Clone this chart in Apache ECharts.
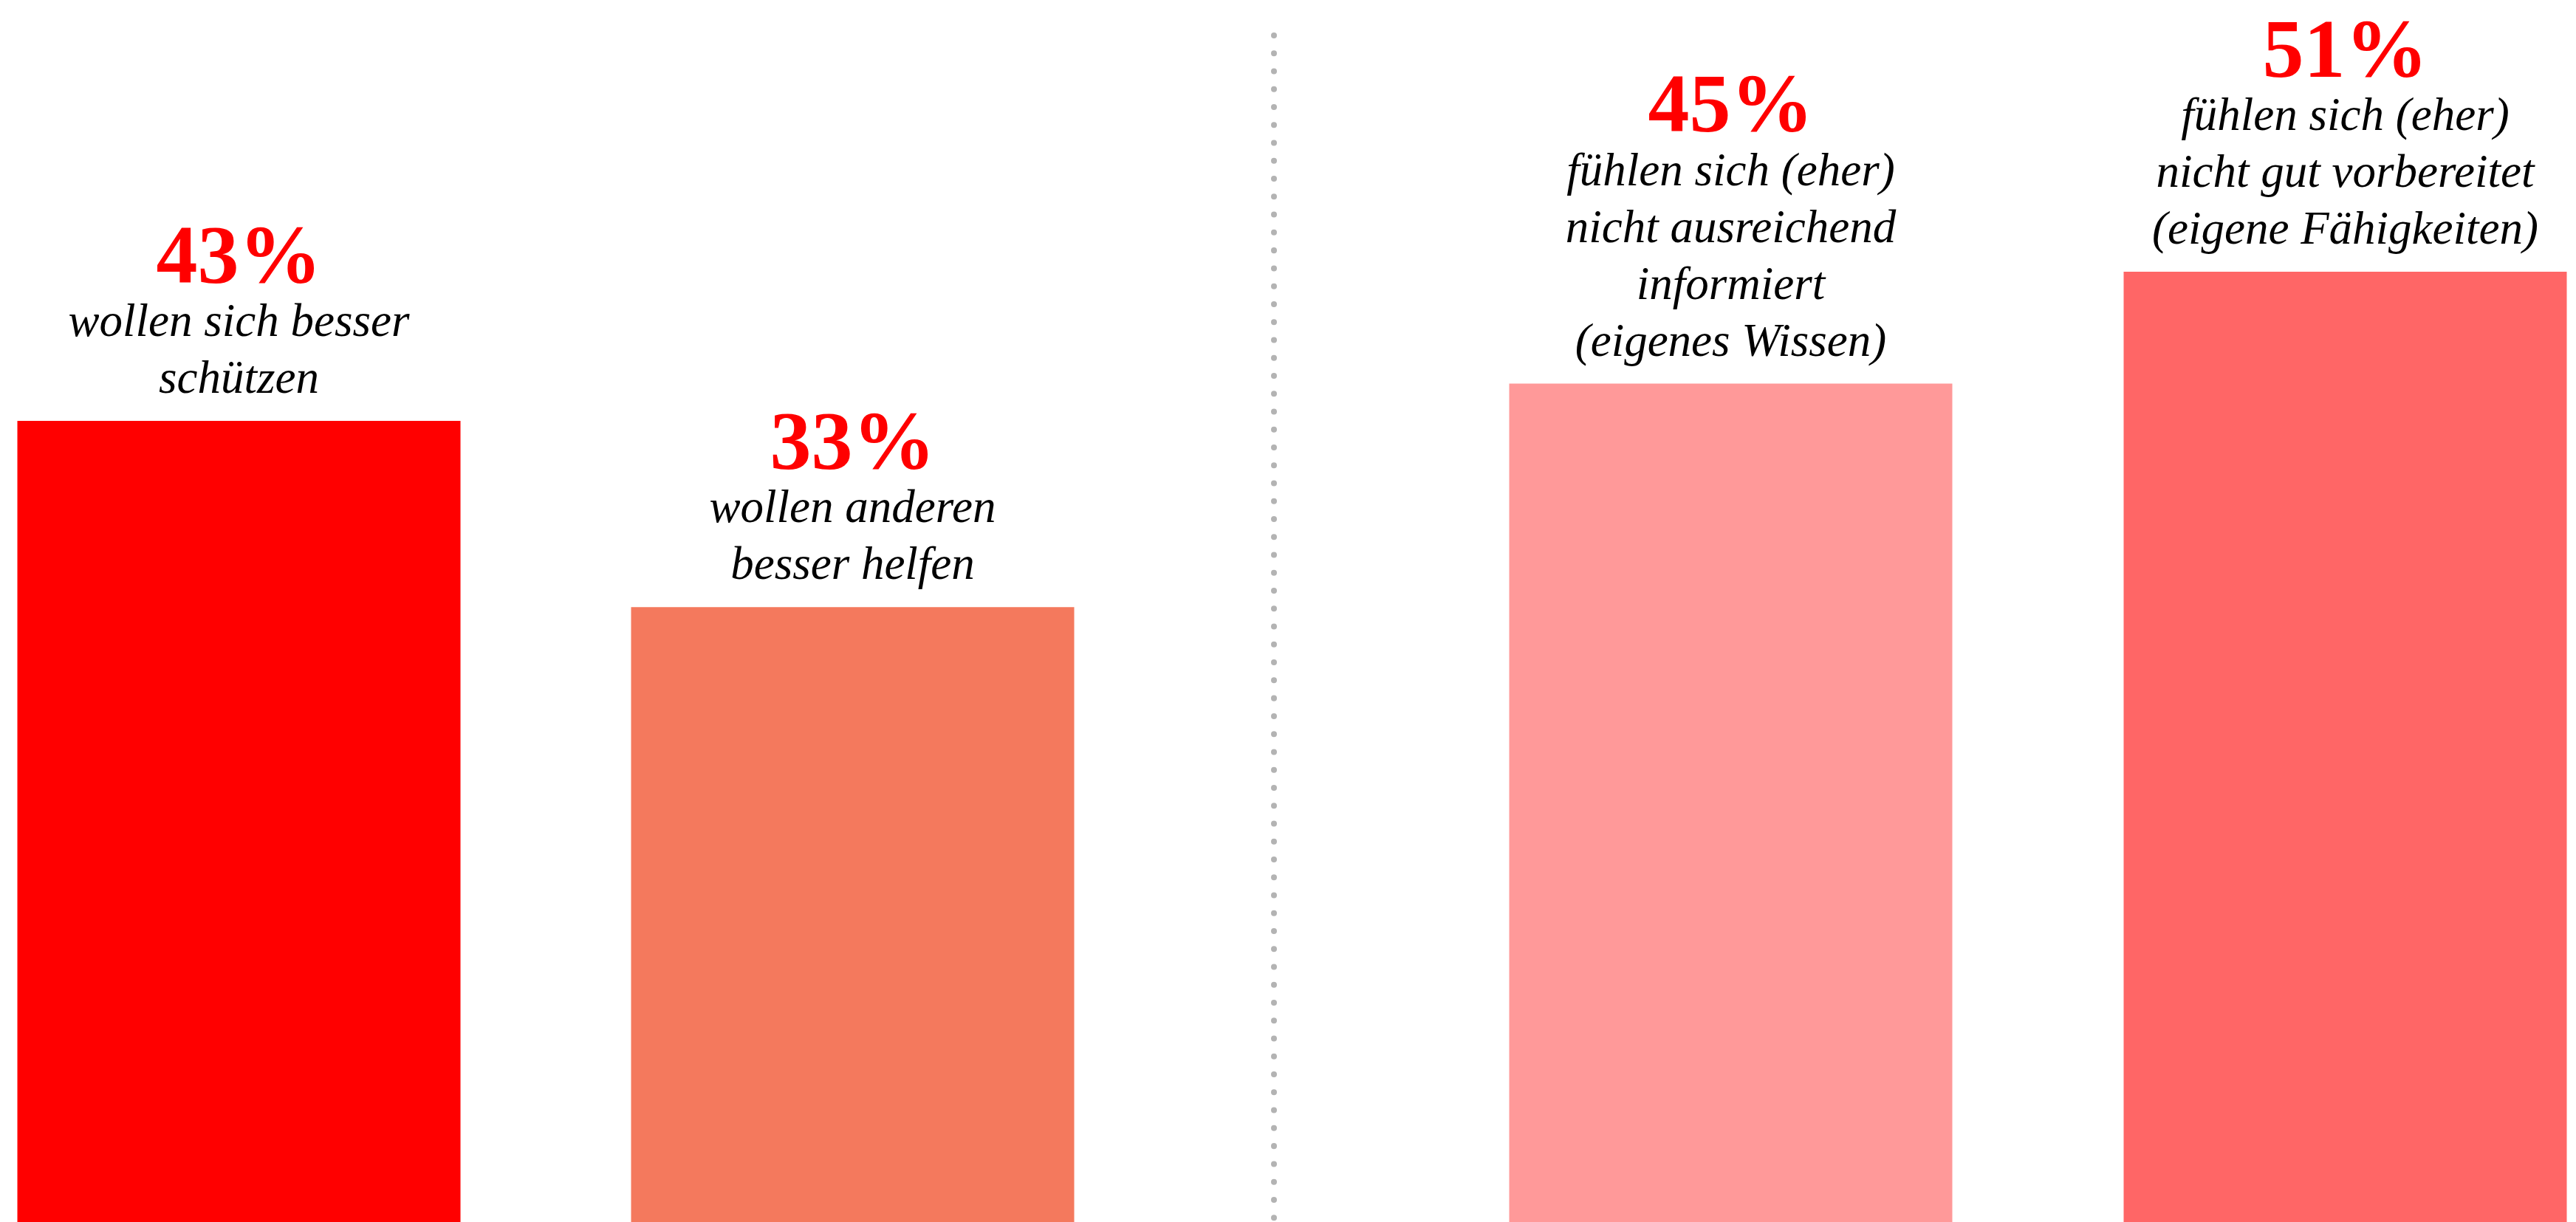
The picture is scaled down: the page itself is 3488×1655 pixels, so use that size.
<!DOCTYPE html>
<html>
<head>
<meta charset="utf-8">
<script src="https://cdn.jsdelivr.net/npm/echarts@6/dist/echarts.min.js"></script>
<style>
html,body{margin:0;padding:0;background:#fff;}
#chart{width:3488px;height:1655px;}
</style>
</head>
<body>
<div id="chart"></div>
<script>
// ---- data ----
const leftCategories = ['wollen sich besser\nschützen', 'wollen anderen\nbesser helfen'];
const leftValues = [43, 33];
const rightCategories = ['fühlen sich (eher)\nnicht ausreichend\ninformiert\n(eigenes Wissen)', 'fühlen sich (eher)\nnicht gut vorbereitet\n(eigene Fähigkeiten)'];
const rightValues = [45, 51];
const leftColors = ['#ff0000', '#f4795d'];
const rightColors = ['#ff9999', '#ff6666'];

const chart = echarts.init(document.getElementById('chart'), null, {renderer: 'canvas'});

function makeLabel(categories) {
  return {
    show: true,
    position: 'top',
    distance: 16,
    align: 'center',
    formatter: function (p) {
      const lines = categories[p.dataIndex].split('\n');
      return '{num|' + p.value + '%}\n' + lines.map(l => '{txt|' + l + '}').join('\n');
    },
    rich: {
      num: {fontFamily: 'Liberation Serif', fontWeight: 'bold', fontSize: 112, lineHeight: 92, color: '#ff0000', align: 'center'},
      txt: {fontFamily: 'Liberation Serif', fontStyle: 'italic', fontSize: 63, lineHeight: 77, color: '#000000', align: 'center'}
    }
  };
}

function coloredData(values, colors) {
  return values.map((v, i) => ({value: v, itemStyle: {color: colors[i]}}));
}

const option = {
  animation: false,
  backgroundColor: '#ffffff',
  grid: [
    {left: 323.5, width: 831, top: 141, bottom: 0},
    {left: 2343.5, width: 832, top: 141, bottom: 0}
  ],
  xAxis: [
    {type: 'category', gridIndex: 0, data: leftCategories, boundaryGap: false, show: false},
    {type: 'category', gridIndex: 1, data: rightCategories, boundaryGap: false, show: false}
  ],
  yAxis: [
    {type: 'value', gridIndex: 0, min: 0, max: 60, show: false},
    {type: 'value', gridIndex: 1, min: 0, max: 60, show: false}
  ],
  series: [
    {type: 'bar', xAxisIndex: 0, yAxisIndex: 0, barWidth: 600, clip: false,
     data: coloredData(leftValues, leftColors), label: makeLabel(leftCategories)},
    {type: 'bar', xAxisIndex: 1, yAxisIndex: 1, barWidth: 600, clip: false,
     data: coloredData(rightValues, rightColors), label: makeLabel(rightCategories)}
  ],
  graphic: [
    {type: 'line', shape: {x1: 1725, y1: 48, x2: 1725, y2: 1652},
     style: {stroke: '#b3b3b3', lineWidth: 8, lineDash: [0.01, 24.25], lineCap: 'round'}}
  ]
};
chart.setOption(option);
</script>
</body>
</html>
